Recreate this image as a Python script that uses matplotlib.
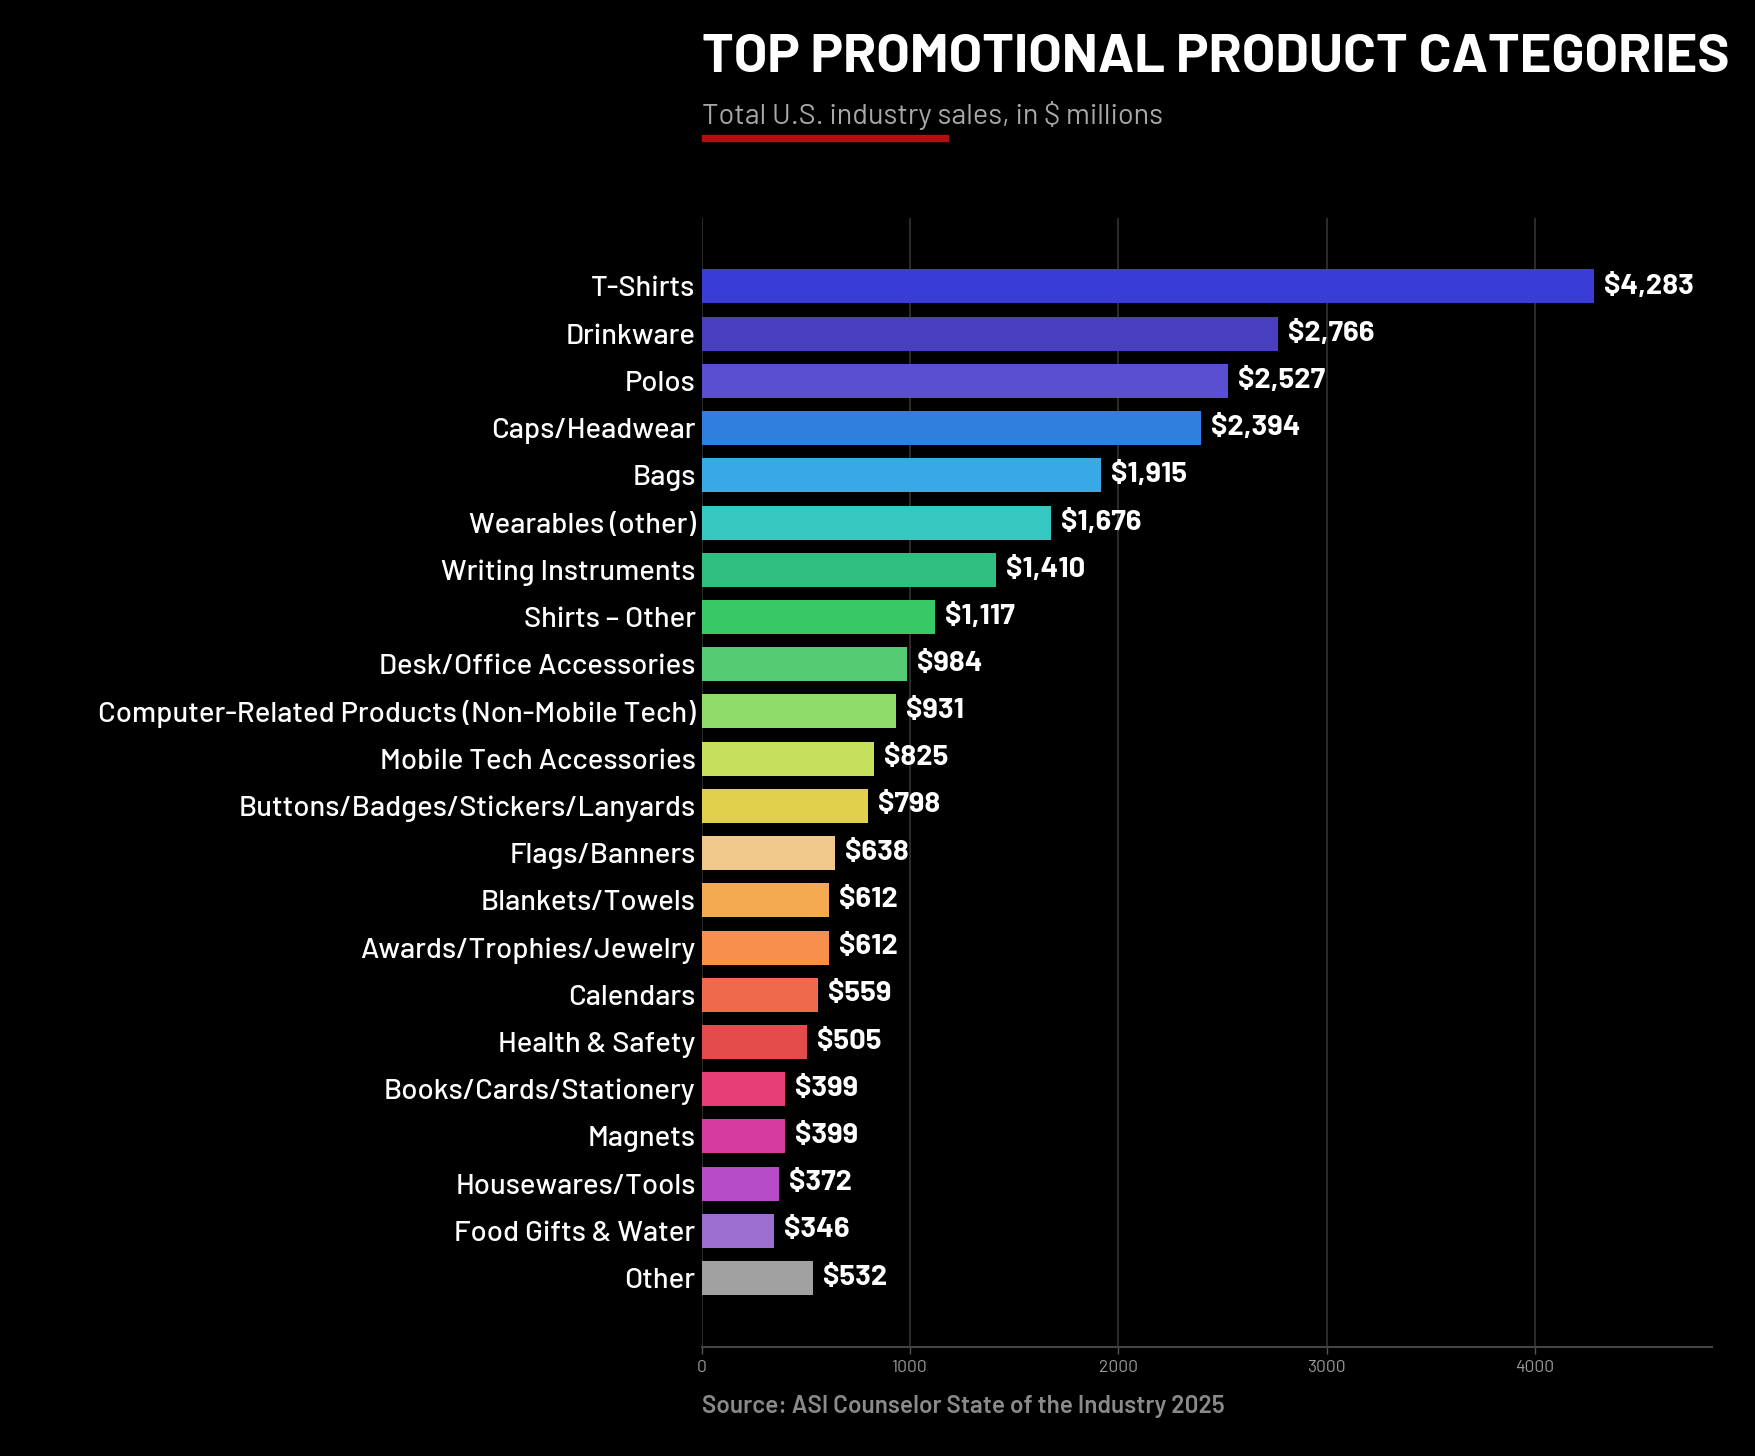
import matplotlib
matplotlib.use("Agg")
import matplotlib.pyplot as plt
from matplotlib import font_manager as fm

############### Data ###############

categories = ["T-Shirts", "Drinkware", "Polos", "Caps/Headwear", "Bags",
              "Wearables (other)", "Writing Instruments", "Shirts – Other",
              "Desk/Office Accessories", "Computer-Related Products (Non-Mobile Tech)",
              "Mobile Tech Accessories", "Buttons/Badges/Stickers/Lanyards",
              "Flags/Banners", "Blankets/Towels", "Awards/Trophies/Jewelry",
              "Calendars", "Health & Safety", "Books/Cards/Stationery", "Magnets",
              "Housewares/Tools", "Food Gifts & Water", "Other"]
sales = [4283, 2766, 2527, 2394, 1915, 1676, 1410, 1117, 984, 931, 825, 798,
         638, 612, 612, 559, 505, 399, 399, 372, 346, 532]
bar_colors = ["#3a3cd6", "#4a3ec0", "#5b4fd1", "#2f80de", "#38a8e6", "#35c8c0",
              "#2fbd80", "#38c866", "#55cc74", "#8fdc6a", "#c4e05c", "#e0d04c",
              "#f0c88c", "#f4aa50", "#f6904c", "#ef6a4c", "#e44c4c", "#e83e78",
              "#d63ca0", "#b64cc8", "#9b6ecf", "#a0a0a0"]
ticks = [0, 1000, 2000, 3000, 4000]

############### Fonts ###############

names = {f.name for f in fm.fontManager.ttflist}
font = "Barlow" if "Barlow" in names else "Roboto"

############### Plot ###############

W, H = 1755, 1456
fig = plt.figure(figsize=(W / 100, H / 100), dpi=100, facecolor="black")
ax = fig.add_axes([702 / W, 1 - 1347 / H, (1712 - 702) / W, (1347 - 218) / H])
ax.set_facecolor("black")

y = list(range(len(categories)))
ax.barh(y, sales, height=0.72, color=bar_colors, zorder=3)
ax.set_ylim(len(categories) - 1 + 1.46, -1.45)
ax.set_xlim(0, 4850)

ax.set_yticks(y)
ax.set_yticklabels(categories, fontsize=21, color="white",
                   fontfamily=font, fontweight="medium")
ax.tick_params(axis="y", length=0, pad=4.6)
ax.set_xticks(ticks)
ax.set_xticklabels([str(t) for t in ticks], fontsize=12.5, color="#9a9a9a",
                   fontfamily=font, fontweight="normal")
ax.tick_params(axis="x", length=5, color="#555555", width=1, pad=4)
ax.grid(axis="x", color="#333333", linewidth=1.2, zorder=0)

for s in ["top", "right", "left"]:
    ax.spines[s].set_visible(False)
ax.spines["bottom"].set_color("#444444")
ax.spines["bottom"].set_linewidth(1.5)

for yi, v in zip(y, sales):
    ax.text(v + 48, yi - 0.02, f"${v:,}", va="center", ha="left",
            fontsize=21, color="white", fontweight="bold", fontfamily=font)

fig.text(702 / W, 1 - 72 / H, "TOP PROMOTIONAL PRODUCT CATEGORIES",
         fontsize=39.1, fontweight="bold", color="white", fontfamily=font,
         ha="left", va="baseline")
fig.text(702 / W, 1 - 124 / H, "Total U.S. industry sales, in $ millions",
         fontsize=20.8, color="#a8a8a8", fontfamily=font, ha="left", va="baseline")
fig.patches.append(plt.Rectangle((702 / W, 1 - 141 / H), (948 - 702) / W, 6 / H,
                                 transform=fig.transFigure, color="#b01010"))
fig.text(702 / W, 1 - 1413 / H, "Source: ASI Counselor State of the Industry 2025",
         fontsize=17.5, fontweight="semibold", color="#8a8a8a", fontfamily=font,
         ha="left", va="baseline")

fig.savefig("out.png", dpi=100, facecolor="black")
